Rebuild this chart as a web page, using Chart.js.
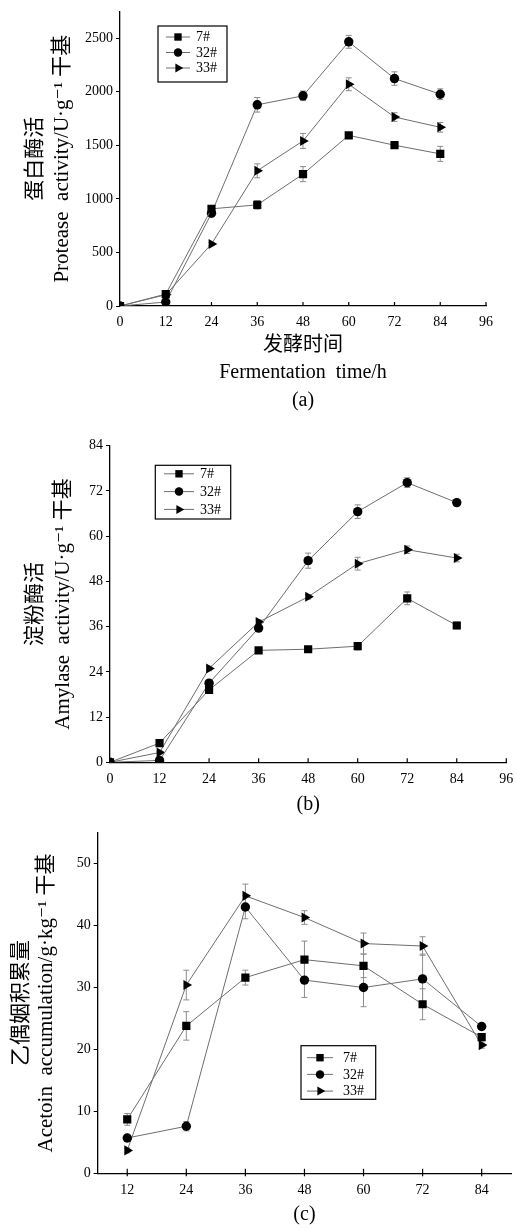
<!DOCTYPE html>
<html>
<head>
<meta charset="utf-8">
<title>Fermentation enzyme activity and acetoin accumulation</title>
<script src="https://cdn.jsdelivr.net/npm/chart.js@4.4.1/dist/chart.umd.min.js"></script>
<style>
  html, body { margin: 0; padding: 0; background: #fff; }
  body { position: relative; width: 517px; height: 1230px; overflow: hidden; }
  canvas { position: absolute; left: 0; }
</style>
</head>
<body>
<canvas id="chartA" width="517" height="415" style="top:0px"></canvas>
<canvas id="chartB" width="517" height="405" style="top:415px"></canvas>
<canvas id="chartC" width="517" height="410" style="top:820px"></canvas>
<script>
// ---- data ----
const strainLabels = ['7#', '32#', '33#'];

const hoursAB = [0, 12, 24, 36, 48, 60, 72, 84];
const hoursC = [12, 24, 36, 48, 60, 72, 84];
const hourTicksAB = [0, 12, 24, 36, 48, 60, 72, 84, 96];
const hourTicksC = [12, 24, 36, 48, 60, 72, 84];

// (a) protease activity, U/g dry basis
const protease7 = [0, 111, 907, 944, 1231, 1593, 1501, 1420];
const protease32 = [0, 37, 866, 1878, 1962, 2466, 2123, 1977];
const protease33 = [0, 105, 579, 1262, 1541, 2070, 1764, 1668];
const proteaseErr7 = [0, 12, 15, 40, 70, 25, 25, 70];
const proteaseErr32 = [0, 10, 15, 68, 45, 60, 63, 50];
const proteaseErr33 = [0, 10, 15, 65, 70, 60, 40, 45];
const proteaseTicks = [0, 500, 1000, 1500, 2000, 2500];

// (b) amylase activity, U/g dry basis
const amylase7 = [0, 5.1, 19.2, 29.7, 30.0, 30.8, 43.5, 36.3];
const amylase32 = [0, 0.5, 21.0, 35.6, 53.5, 66.5, 74.2, 68.9];
const amylase33 = [0, 2.6, 24.9, 37.2, 43.9, 52.7, 56.4, 54.2];
const amylaseErr7 = [0, 0.3, 0.5, 0.5, 0.7, 1.0, 1.7, 0.9];
const amylaseErr32 = [0, 0.3, 0.6, 0.8, 2.0, 1.8, 1.3, 0.6];
const amylaseErr33 = [0, 0.3, 0.6, 0.6, 0.6, 1.7, 1.0, 1.0];
const amylaseTicks = [0, 12, 24, 36, 48, 60, 72, 84];

// (c) acetoin accumulation, g/kg dry basis
const acetoin7 = [8.7, 23.8, 31.6, 34.5, 33.5, 27.3, 22.0];
const acetoin32 = [5.7, 7.6, 43.0, 31.2, 30.0, 31.4, 23.7];
const acetoin33 = [3.7, 30.4, 44.8, 41.3, 37.1, 36.7, 20.7];
const acetoinErr7 = [0.95, 2.3, 1.2, 3.0, 1.9, 2.5, 0.5];
const acetoinErr32 = [0.5, 0.75, 1.9, 2.8, 3.1, 4.0, 0.5];
const acetoinErr33 = [0.4, 2.4, 1.9, 1.1, 1.7, 1.5, 0.5];
const acetoinTicks = [0, 10, 20, 30, 40, 50];

// ---- styling ----
const serif = '"Liberation Serif", "Times New Roman", "DejaVu Serif", "Noto Sans CJK SC", serif';
const markers = [
  { style: 'rect', radius: 5.8, rotation: 0 },
  { style: 'circle', radius: 4.7, rotation: 0 },
  { style: 'triangle', radius: 5.8, rotation: 90 }
];
const lineColor = '#6e6e6e';

// vertical error bars with caps, drawn beneath the lines and markers
const errorBarPlugin = {
  id: 'errorBars',
  beforeDatasetsDraw(chart, args, opts) {
    const { ctx } = chart;
    const xs = chart.scales.x, ys = chart.scales.y;
    ctx.save();
    ctx.strokeStyle = opts.color || '#8a8a8a';
    ctx.lineWidth = opts.width || 1;
    const cap = opts.cap || 3;
    chart.data.datasets.forEach(ds => {
      if (!ds.errors) return;
      ds.data.forEach((pt, j) => {
        const e = ds.errors[j];
        if (!e) return;
        const x = xs.getPixelForValue(pt.x);
        const y1 = ys.getPixelForValue(pt.y - e);
        const y2 = ys.getPixelForValue(pt.y + e);
        ctx.beginPath();
        ctx.moveTo(x, y1); ctx.lineTo(x, y2);
        ctx.moveTo(x - cap, y1); ctx.lineTo(x + cap, y1);
        ctx.moveTo(x - cap, y2); ctx.lineTo(x + cap, y2);
        ctx.stroke();
      });
    });
    ctx.restore();
  }
};

// framed legend placed inside the plot
const boxLegendPlugin = {
  id: 'boxLegend',
  afterDatasetsDraw(chart, args, o) {
    const { ctx } = chart;
    ctx.save();
    ctx.fillStyle = '#fff';
    ctx.fillRect(o.x, o.y, o.w, o.h);
    ctx.strokeStyle = '#000';
    ctx.lineWidth = 1.2;
    ctx.strokeRect(o.x, o.y, o.w, o.h);
    ctx.font = '14px ' + serif;
    ctx.textBaseline = 'middle';
    ctx.textAlign = 'left';
    chart.data.datasets.forEach((ds, i) => {
      const ry = o.y + o.firstRow + i * o.rowGap;
      const x1 = o.x + o.lineX1, x2 = o.x + o.lineX2;
      ctx.strokeStyle = ds.borderColor;
      ctx.lineWidth = ds.borderWidth;
      ctx.beginPath(); ctx.moveTo(x1, ry); ctx.lineTo(x2, ry); ctx.stroke();
      ctx.fillStyle = '#000';
      Chart.helpers.drawPoint(ctx, {
        pointStyle: ds.pointStyle, radius: ds.pointRadius * 0.9,
        rotation: ds.pointRotation || 0, borderWidth: 0
      }, (x1 + x2) / 2, ry);
      ctx.fillStyle = '#000';
      ctx.fillText(ds.label, o.x + o.textX, ry + 0.5);
    });
    ctx.restore();
  }
};

// short tick marks on the x axis pointing into the plot
const innerTicksPlugin = {
  id: 'innerTicks',
  afterDraw(chart, args, o) {
    const { ctx, chartArea } = chart;
    const xs = chart.scales.x;
    ctx.save();
    ctx.strokeStyle = '#000';
    ctx.lineWidth = 1.2;
    xs.ticks.forEach(t => {
      const px = xs.getPixelForValue(t.value);
      ctx.beginPath();
      ctx.moveTo(px, chartArea.bottom + (o.down || 0));
      ctx.lineTo(px, chartArea.bottom - (o.up || 0));
      ctx.stroke();
    });
    ctx.restore();
  }
};

function buildChart(id, cfg) {
  const datasets = cfg.series.map((s, i) => ({
    label: strainLabels[i],
    data: cfg.hours.map((h, j) => ({ x: h, y: s.values[j] })),
    errors: s.errors,
    borderColor: lineColor,
    borderWidth: 1,
    tension: 0,
    pointStyle: markers[i].style,
    pointRadius: markers[i].radius,
    pointHoverRadius: markers[i].radius,
    pointRotation: markers[i].rotation,
    pointBackgroundColor: '#000',
    pointBorderColor: '#000',
    pointBorderWidth: 0
  }));

  return new Chart(document.getElementById(id), {
    type: 'line',
    data: { datasets },
    options: {
      responsive: false,
      animation: false,
      events: [],
      layout: { padding: cfg.padding },
      plugins: {
        legend: { display: false },
        tooltip: { enabled: false },
        title: { display: false },
        errorBars: { color: '#8c8c8c', width: 1, cap: 3 },
        boxLegend: cfg.legend,
        innerTicks: cfg.innerTicks
      },
      scales: {
        x: {
          type: 'linear',
          min: cfg.xMin,
          max: cfg.xMax,
          afterBuildTicks: sc => { sc.ticks = cfg.xTicks.map(v => ({ value: v })); },
          afterFit: sc => { sc.height = cfg.xHeight; },
          grid: { display: false },
          border: { display: true, color: '#000', width: 1.3 },
          ticks: {
            autoSkip: false, maxRotation: 0, color: '#000',
            padding: cfg.xTickPad,
            font: { family: serif, size: 14 },
            callback: v => String(v)
          },
          title: {
            display: true, text: cfg.xTitle, color: '#000',
            font: { family: serif, size: 20, lineHeight: cfg.xTitleLH },
            padding: { top: 0, bottom: cfg.xTitlePad }
          }
        },
        y: {
          type: 'linear',
          min: cfg.yMin,
          max: cfg.yMax,
          afterBuildTicks: sc => { sc.ticks = cfg.yTicks.map(v => ({ value: v })); },
          afterFit: sc => { sc.width = cfg.yWidth; },
          grid: { display: true, drawOnChartArea: false, drawTicks: true, tickLength: 4, color: '#000', lineWidth: 1 },
          border: { display: true, color: '#000', width: 1.3 },
          ticks: {
            autoSkip: false, color: '#000', padding: 3,
            font: { family: serif, size: 14 },
            callback: v => String(v)
          },
          title: {
            display: true, text: cfg.yTitle, color: '#000',
            font: { family: serif, size: 21, lineHeight: cfg.yTitleLH },
            padding: { top: cfg.yTitlePad, bottom: 0 }
          }
        }
      }
    },
    plugins: [errorBarPlugin, boxLegendPlugin, innerTicksPlugin]
  });
}

// (a) protease
buildChart('chartA', {
  hours: hoursAB,
  series: [
    { values: protease7, errors: proteaseErr7 },
    { values: protease32, errors: proteaseErr32 },
    { values: protease33, errors: proteaseErr33 }
  ],
  padding: { left: 0, right: 31, top: 9.3, bottom: 1 },
  xMin: 0, xMax: 96, xTicks: hourTicksAB, xHeight: 108, xTickPad: 0,
  xTitle: ['发酵时间', 'Fermentation  time/h', '(a)'], xTitleLH: 1.375, xTitlePad: 0,
  yMin: 0, yMax: 2750, yTicks: proteaseTicks, yWidth: 120,
  yTitle: ['蛋白酶活', 'Protease  activity/U·g⁻¹ 干基'], yTitleLH: 27 / 21, yTitlePad: 21.5,
  legend: { x: 158, y: 26, w: 69, h: 56, firstRow: 11, rowGap: 15.5, lineX1: 8, lineX2: 32, textX: 38 },
  innerTicks: { up: 4, down: 0 }
});

// (b) amylase
buildChart('chartB', {
  hours: hoursAB,
  series: [
    { values: amylase7, errors: amylaseErr7 },
    { values: amylase32, errors: amylaseErr32 },
    { values: amylase33, errors: amylaseErr33 }
  ],
  padding: { left: 0, right: 10.7, top: 30.7, bottom: 1.7 },
  xMin: 0, xMax: 96, xTicks: hourTicksAB, xHeight: 56, xTickPad: 1,
  xTitle: ['(b)'], xTitleLH: 1.35, xTitlePad: 0,
  yMin: 0, yMax: 84, yTicks: amylaseTicks, yWidth: 110,
  yTitle: ['淀粉酶活', 'Amylase  activity/U·g⁻¹ 干基'], yTitleLH: 28 / 21, yTitlePad: 21,
  legend: { x: 155.3, y: 50.3, w: 75.4, h: 53.7, firstRow: 8.5, rowGap: 17.8, lineX1: 8.7, lineX2: 38.7, textX: 44.7 },
  innerTicks: { up: 4, down: 0 }
});

// (c) acetoin
buildChart('chartC', {
  hours: hoursC,
  series: [
    { values: acetoin7, errors: acetoinErr7 },
    { values: acetoin32, errors: acetoinErr32 },
    { values: acetoin33, errors: acetoinErr33 }
  ],
  padding: { left: 0, right: 0, top: 12.7, bottom: 1.7 },
  xMin: 6, xMax: 90, xTicks: hourTicksC, xHeight: 55, xTickPad: 1,
  xTitle: ['(c)'], xTitleLH: 1.35, xTitlePad: 0,
  yMin: 0, yMax: 55, yTicks: acetoinTicks, yWidth: 97.7,
  yTitle: ['乙偶姻积累量', 'Acetoin  accumulation/g·kg⁻¹ 干基'], yTitleLH: 25 / 21, yTitlePad: 9.2,
  legend: { x: 301, y: 225.7, w: 74.7, h: 53.6, firstRow: 12, rowGap: 16.7, lineX1: 6, lineX2: 32, textX: 42 },
  innerTicks: { up: 4.5, down: 3 }
});
</script>
</body>
</html>
